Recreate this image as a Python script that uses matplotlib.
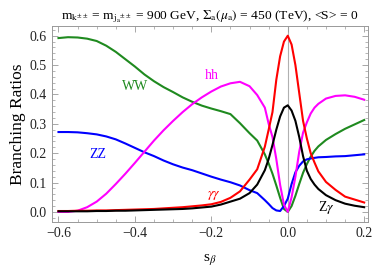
import matplotlib
matplotlib.use("Agg")
import matplotlib.pyplot as plt
from matplotlib.ticker import MultipleLocator

plt.rcParams['font.family'] = ['Liberation Serif', 'DejaVu Serif']
plt.rcParams['mathtext.fontset'] = 'stix'

# s_beta grid
s_beta = [-0.6, -0.575, -0.55, -0.525, -0.5, -0.475, -0.45, -0.425, -0.4, -0.375,
          -0.35, -0.325, -0.3, -0.275, -0.25, -0.225, -0.2, -0.175, -0.15,
          -0.125, -0.1, -0.08, -0.06, -0.05, -0.04, -0.03, -0.02, -0.01, 0.0,
          0.01, 0.02, 0.03, 0.04, 0.05, 0.06, 0.07, 0.08, 0.1, 0.125,
          0.15, 0.175, 0.2]

br_ww = [0.592, 0.595, 0.594, 0.59, 0.582, 0.566, 0.545, 0.52, 0.495, 0.468,
         0.445, 0.425, 0.408, 0.39, 0.375, 0.362, 0.352, 0.343, 0.333,
         0.302, 0.268, 0.243, 0.196, 0.165, 0.13, 0.09, 0.048, 0.01, 0.0,
         0.02, 0.055, 0.095, 0.133, 0.163, 0.188, 0.208, 0.223, 0.245, 0.265,
         0.283, 0.298, 0.313]

br_hh = [0.0, 0.0, 0.004, 0.016, 0.035, 0.062, 0.095, 0.13, 0.167, 0.205,
         0.243, 0.278, 0.31, 0.34, 0.367, 0.39, 0.41, 0.427, 0.438,
         0.443, 0.428, 0.398, 0.355, 0.30, 0.255, 0.18, 0.092, 0.025, 0.0,
         0.05, 0.12, 0.205, 0.27, 0.305, 0.335, 0.355, 0.368, 0.386, 0.395,
         0.397, 0.392, 0.382]

br_zz = [0.272, 0.272, 0.271, 0.268, 0.264, 0.257, 0.247, 0.233, 0.218, 0.203,
         0.19, 0.175, 0.162, 0.151, 0.142, 0.131, 0.12, 0.11, 0.101,
         0.09, 0.074, 0.064, 0.04, 0.027, 0.013, 0.005, 0.003, 0.02, 0.045,
         0.095, 0.135, 0.157, 0.172, 0.179, 0.182, 0.184, 0.186, 0.187, 0.189,
         0.19, 0.193, 0.196]

br_aa = [0.003, 0.003, 0.004, 0.004, 0.005, 0.005, 0.006, 0.007, 0.008, 0.009,
         0.01, 0.012, 0.014, 0.016, 0.019, 0.022, 0.026, 0.034, 0.048,
         0.07, 0.11, 0.145, 0.222, 0.28, 0.34, 0.45, 0.53, 0.58, 0.6,
         0.57, 0.5, 0.405, 0.31, 0.25, 0.2, 0.168, 0.138, 0.102, 0.075,
         0.052, 0.042, 0.032]

br_za = [0.002, 0.002, 0.002, 0.002, 0.003, 0.003, 0.004, 0.004, 0.005, 0.006,
         0.007, 0.008, 0.009, 0.01, 0.012, 0.015, 0.018, 0.025, 0.035,
         0.045, 0.064, 0.093, 0.142, 0.18, 0.228, 0.28, 0.325, 0.355, 0.363,
         0.345, 0.31, 0.255, 0.19, 0.14, 0.112, 0.093, 0.078, 0.057, 0.04,
         0.028, 0.021, 0.016]

green = '#1f8a1f'

fig = plt.figure(figsize=(3.74, 2.77), dpi=100)
ax = fig.add_axes([0.139, 0.199, 0.845, 0.707])

ax.axvline(0, color='#b0b0b0', lw=0.8, zorder=1)

lw = 1.5
ax.plot(s_beta, br_ww, color=green, lw=lw)
ax.plot(s_beta, br_zz, color='#0000ff', lw=lw)
ax.plot(s_beta, br_hh, color='#ff00ff', lw=lw)
ax.plot(s_beta, br_aa, color='#ff0000', lw=lw)
ax.plot(s_beta, br_za, color='black', lw=lw)

lab = dict(fontsize=10, ha='center', va='center')
ax.text(-0.399, 0.426, 'WW', color=green, **lab)
ax.text(-0.2, 0.466, 'hh', color='#ff00ff', **lab)
ax.text(-0.498, 0.194, 'ZZ', color='#0000ff', **lab)
ax.text(-0.193, 0.055, r'$\gamma\gamma$', color='#ff0000', **lab)
ax.text(0.101, 0.014, r'Z$\gamma$', color='black', **lab)

ax.set_xlim(-0.617, 0.21)
ax.set_ylim(-0.034, 0.633)
ax.xaxis.set_major_locator(MultipleLocator(0.2))
ax.xaxis.set_minor_locator(MultipleLocator(0.05))
ax.yaxis.set_major_locator(MultipleLocator(0.1))
ax.yaxis.set_minor_locator(MultipleLocator(0.02))
ax.xaxis.set_major_formatter(plt.FuncFormatter(lambda v, p: f'{v:.1f}'.replace('-', '\u2212')))
ax.yaxis.set_major_formatter(plt.FuncFormatter(lambda v, p: f'{v:.1f}'))

ax.tick_params(which='both', direction='in', top=True, right=True,
               colors='#999999', labelcolor='#222222', labelsize=10)
ax.tick_params(which='major', length=4, width=0.6)
ax.tick_params(which='minor', length=2, width=0.5)
ax.tick_params(axis='x', pad=4)
for sp in ax.spines.values():
    sp.set_color('#999999')
    sp.set_linewidth(0.7)

ax.set_ylabel('Branching Ratios', fontsize=12.5, labelpad=3)
ax.set_xlabel(r's$_\beta$', fontsize=11, labelpad=8)
ax.set_title(r'm$_{\mathrm{k}^{\pm\pm}}$ = m$_{\mathrm{j_a}{}^{\pm\pm}}$ = 900 GeV, '
             r'$\Sigma_\mathrm{a}(\mu_\mathrm{a})$ = 450 (TeV), <S> = 0',
             fontsize=9.7, pad=5)

fig.savefig('out.png', dpi=100)
